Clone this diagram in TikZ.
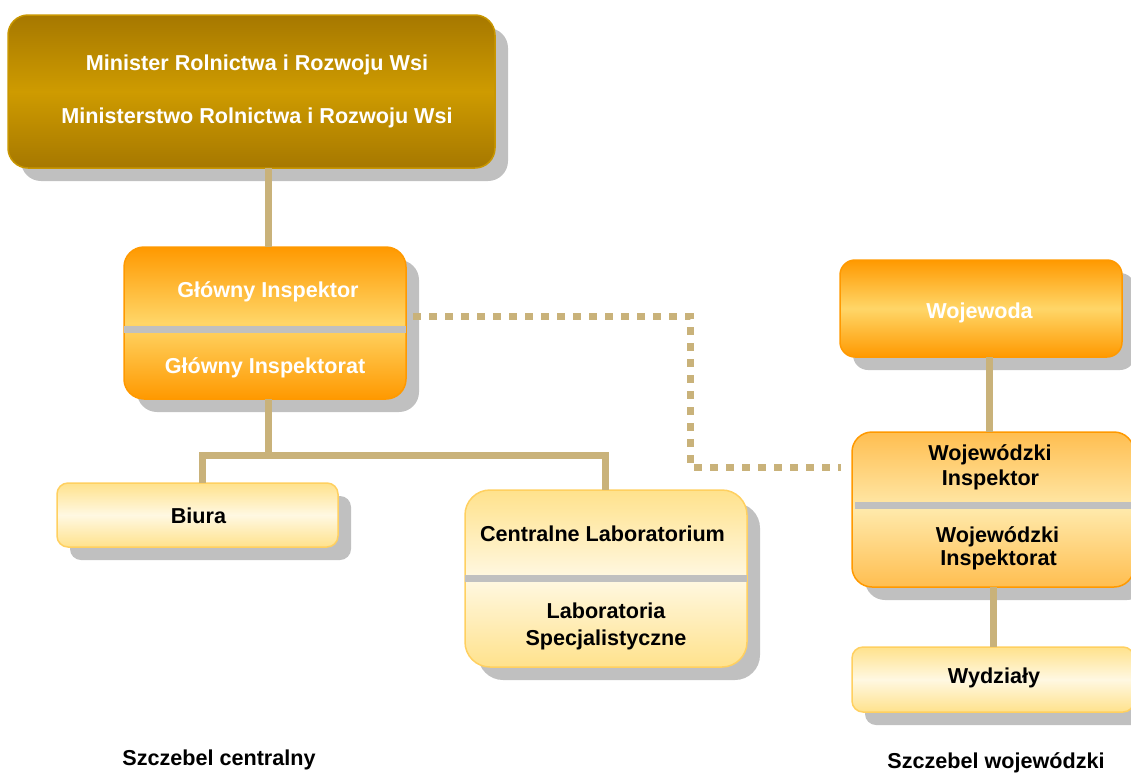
\documentclass[tikz,border=0pt]{standalone}
\usepackage{fontspec}
\setmainfont{Liberation Sans}
\usetikzlibrary{calc,backgrounds}
\definecolor{shadowgray}{RGB}{192,192,192}
\definecolor{conn}{RGB}{201,178,122}
\definecolor{mtop}{RGB}{166,120,0}
\definecolor{mmid}{RGB}{206,155,0}
\definecolor{mborder}{RGB}{200,150,0}
\definecolor{otop}{RGB}{255,153,0}
\definecolor{omid}{RGB}{255,214,104}
\definecolor{wtop}{RGB}{255,190,80}
\definecolor{wmid}{RGB}{255,233,170}
\definecolor{ltop}{RGB}{255,226,140}
\definecolor{lmid}{RGB}{255,248,226}
\definecolor{lborder}{RGB}{255,208,96}
\newcommand{\boxshadow}[2]{%
  \fill[shadowgray, rounded corners=#2]
    ($(#1.north west)+(13,13)$) rectangle ($(#1.south east)+(13,13)$);}
\begin{document}
\begin{tikzpicture}[x=1pt,y=-1pt,
  font=\fontsize{21.6}{25}\selectfont\bfseries,
  boxbase/.style={draw, line width=1.5pt, inner sep=0pt, outer sep=0pt, anchor=center},
  goldbox/.style={boxbase, rounded corners=20pt, draw=mborder, top color=mtop, bottom color=mtop, middle color=mmid},
  orangebox/.style={boxbase, draw=otop, top color=otop, bottom color=otop, middle color=omid},
  wbox/.style={boxbase, rounded corners=20pt, draw=otop, top color=wtop, bottom color=wtop, middle color=wmid},
  lightbox/.style={boxbase, draw=lborder, top color=ltop, bottom color=ltop, middle color=lmid},
  wtxt/.style={text=white, anchor=base, inner sep=0pt},
  btxt/.style={text=black, anchor=base, inner sep=0pt},
  conline/.style={draw=conn, line width=7pt},
  dotline/.style={draw=conn, line width=7pt, dash pattern=on 8pt off 8pt},
  divider/.style={draw=shadowgray, line width=7pt}
]
\useasboundingbox (0,0) rectangle (1131,774);
\clip (0,0) rectangle (1131,774);

% boxes (geometry only)
\node[goldbox, minimum width=487pt, minimum height=153pt] (min) at (251.5,91.5) {};
\node[orangebox, rounded corners=20pt, minimum width=282pt, minimum height=152pt] (gi) at (265,323) {};
\node[lightbox, rounded corners=11pt, minimum width=281pt, minimum height=64pt] (biura) at (197.5,515) {};
\node[lightbox, rounded corners=25pt, minimum width=282pt, minimum height=177pt] (cl) at (606,578.5) {};
\node[orangebox, rounded corners=15pt, minimum width=282pt, minimum height=97pt] (woj) at (981,308.5) {};
\node[wbox, minimum width=282pt, minimum height=155pt] (wi) at (993,509.5) {};
\node[lightbox, rounded corners=11pt, minimum width=282pt, minimum height=65pt] (wyd) at (993,679.5) {};

% shadows
\begin{scope}[on background layer]
  \boxshadow{min}{20pt}
  \boxshadow{gi}{20pt}
  \boxshadow{biura}{11pt}
  \boxshadow{cl}{25pt}
  \boxshadow{woj}{15pt}
  \boxshadow{wi}{20pt}
  \boxshadow{wyd}{11pt}
\end{scope}

% connectors
\coordinate (j) at (268,455);
\coordinate (d1) at (690,316);
\coordinate (d2) at (690,467);
\draw[conline] (min.south -| j) -- (gi.north -| j);
\draw[conline] (gi.south -| j) -- (j);
\draw[conline] ($(biura.north)+(4.5,0)$) |- (j) -| ($(cl.north)+(-1,0)$);
\draw[conline] ($(woj.south)+(8,0)$) -- ($(wi.north)+(-4,0)$);
\draw[conline] (wi.south) -- (wyd.north);
\draw[dotline] ($(gi.east)+(7,-7)$) -- (d1) -- (d2) -- ($(wi.west)+(-11,-42.5)$);

% dividers
\draw[divider] ($(gi.west)+(0,6)$) -- ($(gi.east)+(0,6)$);
\draw[divider] (cl.west) -- (cl.east);
\draw[divider] ($(wi.west)+(3,-4.5)$) -- ($(wi.east)+(0,-4.5)$);

% texts
\node[wtxt] (t1) at (257,70) {Minister Rolnictwa i Rozwoju Wsi};
\node[wtxt] (t2) at (257,123) {Ministerstwo Rolnictwa i Rozwoju Wsi};
\node[wtxt] (t3) at (268,297) {Główny Inspektor};
\node[wtxt] (t4) at (265,373) {Główny Inspektorat};
\node[btxt] (t5) at (198.5,523) {Biura};
\node[btxt] (t6) at (602.5,541) {Centralne Laboratorium};
\node[btxt] (t7) at (606,618) {Laboratoria};
\node[btxt] (t8) at (606,645) {Specjalistyczne};
\node[wtxt] (t9) at (979.5,318) {Wojewoda};
\node[btxt] (t10) at (990,460) {Wojewódzki};
\node[btxt] (t11) at (990.5,485) {Inspektor};
\node[btxt] (t12) at (997.5,542) {Wojewódzki};
\node[btxt] (t13) at (998.5,565) {Inspektorat};
\node[btxt] (t14) at (994,683) {Wydziały};
\node[btxt] (t15) at (219,765) {Szczebel centralny};
\node[btxt] (t16) at (996,768) {Szczebel wojewódzki};
\end{tikzpicture}
\end{document}
